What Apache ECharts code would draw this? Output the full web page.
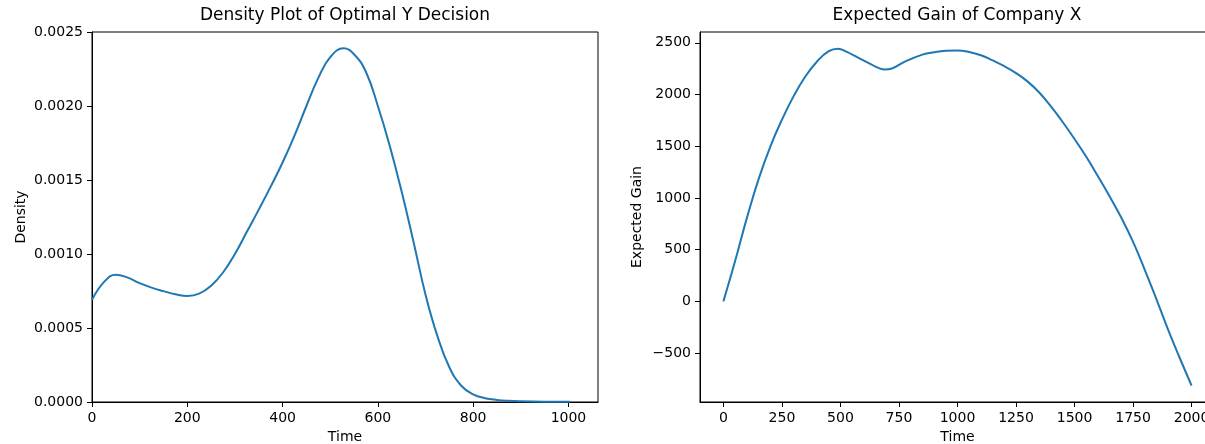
<!DOCTYPE html>
<html>
<head>
<meta charset="utf-8">
<title>Optimal Y / Expected Gain</title>
<script src="https://cdn.jsdelivr.net/npm/echarts@6/dist/echarts.min.js"></script>
<style>
  html, body { margin: 0; padding: 0; background: #fff; }
  #main { width: 1205px; height: 444px; }
</style>
</head>
<body>
<div id="main"></div>
<script>
// left panel: kde of optimal Y decision
var densityTime = [0, 25, 50, 75, 100, 125, 150, 175, 200, 225, 250, 275, 300, 325, 350, 375, 400, 425, 450, 475,
  500, 528, 550, 575, 600, 625, 650, 675, 700, 725, 750, 775, 800, 825, 850, 875, 900, 950, 1003];
var densityValue = [0.00069, 0.00081, 0.00086, 0.00084, 0.000803, 0.000773, 0.000749, 0.000728, 0.000716, 0.000732,
  0.000785, 0.000875, 0.00100, 0.00115, 0.00130, 0.001455, 0.001618, 0.00180, 0.00200, 0.00219,
  0.00233, 0.00239, 0.00235, 0.00223, 0.00200, 0.00173, 0.00142, 0.00108, 0.000725, 0.000445,
  0.000235, 0.00011, 0.000052, 0.000026, 0.000014, 0.000008, 0.000005, 0.000002, 0.000001];
var densityTicksX = [0, 200, 400, 600, 800, 1000];

// right panel: expected gain of company X
var gainTime = [0, 50, 100, 150, 200, 250, 300, 350, 400, 450, 490, 525, 575, 625, 660, 690, 720, 775, 850, 900,
  950, 1000, 1050, 1100, 1150, 1200, 1250, 1300, 1350, 1400, 1450, 1500, 1550, 1600, 1650, 1700, 1750, 1800,
  1850, 1900, 1950, 2000];
var gainValue = [0, 390, 805, 1180, 1495, 1757, 1985, 2175, 2320, 2420, 2444, 2415, 2357, 2300, 2260, 2242, 2252, 2318, 2386, 2410,
  2424, 2427, 2412, 2380, 2330, 2275, 2208, 2125, 2018, 1884, 1732, 1570, 1398, 1210, 1015, 808, 575, 305,
  20, -275, -550, -815];
var gainTicksX = [0, 250, 500, 750, 1000, 1250, 1500, 1750, 2000];
var gainTicksY = [-500, 0, 500, 1000, 1500, 2000, 2500];

var font = 'DejaVu Sans';
var lineColor = '#1f77b4';

function pairs(xs, ys) {
  var out = [];
  for (var i = 0; i < xs.length; i++) {
    out.push([xs[i], ys[i]]);
  }
  return out;
}

function plain(v) {
  return String(v).replace('-', '\u2212');
}

function axisBase(extra) {
  var a = {
    type: 'value',
    nameLocation: 'middle',
    nameTextStyle: { fontFamily: font, fontSize: 14, color: '#000' },
    axisLine: { show: true, onZero: false, lineStyle: { color: '#000', width: 1 } },
    axisTick: { show: true, length: 5, lineStyle: { color: '#000', width: 1 } },
    axisLabel: { fontFamily: font, fontSize: 14, color: '#000', margin: 9, formatter: plain },
    splitLine: { show: false }
  };
  for (var k in extra) {
    if (typeof extra[k] === 'object' && a[k] && !Array.isArray(extra[k])) {
      for (var j in extra[k]) a[k][j] = extra[k][j];
    } else {
      a[k] = extra[k];
    }
  }
  return a;
}

var chart = echarts.init(document.getElementById('main'));
chart.setOption({
  animation: false,
  backgroundColor: '#fff',
  title: [
    {
      text: 'Density Plot of Optimal Y Decision',
      left: 345, top: 7, padding: 0, textAlign: 'center',
      textStyle: { fontFamily: font, fontSize: 17, fontWeight: 'normal', color: '#000' }
    },
    {
      text: 'Expected Gain of Company X',
      left: 957, top: 7, padding: 0, textAlign: 'center',
      textStyle: { fontFamily: font, fontSize: 17, fontWeight: 'normal', color: '#000' }
    }
  ],
  grid: [
    { left: 92, top: 32, width: 506, height: 370, show: true, borderColor: '#000', borderWidth: 1, outerBoundsMode: 'none' },
    { left: 700, top: 32, width: 515, height: 370, show: true, borderColor: '#000', borderWidth: 1, outerBoundsMode: 'none' }
  ],
  xAxis: [
    axisBase({
      gridIndex: 0, min: 0, max: 1062, name: 'Time', nameGap: 27,
      axisTick: { customValues: densityTicksX },
      axisLabel: { customValues: densityTicksX }
    }),
    axisBase({
      gridIndex: 1, min: -100, max: 2100, name: 'Time', nameGap: 27,
      axisTick: { customValues: gainTicksX },
      axisLabel: { customValues: gainTicksX }
    })
  ],
  yAxis: [
    axisBase({
      gridIndex: 0, min: 0, max: 0.0025, interval: 0.0005, name: 'Density', nameGap: 64,
      axisLabel: { formatter: function (v) { return v.toFixed(4); } }
    }),
    axisBase({
      gridIndex: 1, min: -973, max: 2605, name: 'Expected Gain', nameGap: 56,
      axisTick: { customValues: gainTicksY },
      axisLabel: { customValues: gainTicksY }
    })
  ],
  series: [
    {
      type: 'line', xAxisIndex: 0, yAxisIndex: 0,
      data: pairs(densityTime, densityValue),
      showSymbol: false, smooth: 0.45,
      lineStyle: { color: lineColor, width: 2 }
    },
    {
      type: 'line', xAxisIndex: 1, yAxisIndex: 1,
      data: pairs(gainTime, gainValue),
      showSymbol: false, smooth: 0.45,
      lineStyle: { color: lineColor, width: 2 }
    }
  ]
});
</script>
</body>
</html>
